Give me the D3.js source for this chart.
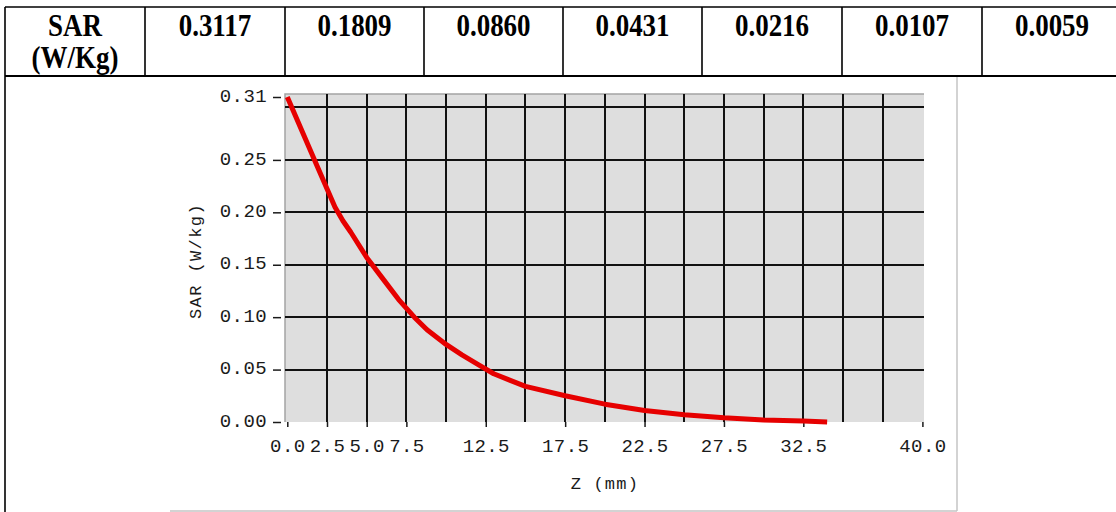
<!DOCTYPE html>
<meta charset="utf-8">
<head>
<style>
  body { margin: 0; background: #fff; }
  .cell-text { font: bold 31px "Liberation Serif", "Times New Roman", serif; fill: #000; }
  .axis text, .title { font-family: "Liberation Mono", "DejaVu Sans Mono", monospace; fill: #1a1a1a; }
  .axis path { display: none; }
  .axis line { stroke: #1a1a1a; stroke-width: 1.5; }
  .grid line { stroke: #111; stroke-width: 2; shape-rendering: crispEdges; }
</style>
</head>
<body>
<script src="https://d3js.org/d3.v7.min.js"></script>
<script>
// header table values
var headerLabel = ["SAR", "(W/Kg)"];
var sarTable = [0.3117, 0.1809, 0.0860, 0.0431, 0.0216, 0.0107, 0.0059];

// curve
var depthMm = [0, 1, 2, 3, 3.5, 4, 5, 6, 7, 8, 8.8, 10, 11, 12, 13, 14, 15, 17.5, 20, 22.5, 25, 27.5, 30, 32.5, 34];
var sarCurve = [0.310, 0.275, 0.240, 0.205, 0.192, 0.181, 0.157, 0.137, 0.117, 0.100, 0.088, 0.074, 0.064,
                0.055, 0.046, 0.040, 0.034, 0.025, 0.017, 0.011, 0.007, 0.004, 0.002, 0.001, 0.000];

// ticks and grid
var xTicks = [0, 2.5, 5, 7.5, 12.5, 17.5, 22.5, 27.5, 32.5, 40];
var yTicks = [0, 0.05, 0.10, 0.15, 0.20, 0.25, 0.31];
var xGrid = [2.5, 5, 7.5, 10, 12.5, 15, 17.5, 20, 22.5, 25, 27.5, 30, 32.5, 35, 37.5];
var yGrid = [0.05, 0.10, 0.15, 0.20, 0.25, 0.30];

var W = 1116, H = 512;
var svg = d3.select("body").append("svg")
    .attr("width", W)
    .attr("height", H);

// ---- table ----
var colEdges = [5, 145, 285, 424, 563, 702, 842, 982, 1122];
var tableTop = 7, rowBottom = 76;

var borders = svg.append("g").attr("stroke", "#000").attr("stroke-width", 1.6);
borders.append("line").attr("x1", 5).attr("x2", W).attr("y1", tableTop).attr("y2", tableTop);
borders.append("line").attr("x1", 5).attr("x2", W).attr("y1", rowBottom).attr("y2", rowBottom)
    .attr("stroke-width", 2);
borders.append("line").attr("x1", 5).attr("x2", 5).attr("y1", tableTop).attr("y2", H);
borders.selectAll(".div")
    .data(colEdges.slice(1, -1))
  .enter().append("line")
    .attr("x1", function(d) { return d; })
    .attr("x2", function(d) { return d; })
    .attr("y1", tableTop)
    .attr("y2", rowBottom);

function cellText(txt, cx, base) {
  svg.append("text")
      .attr("class", "cell-text")
      .attr("text-anchor", "middle")
      .attr("transform", "translate(" + cx + "," + base + ") scale(0.87,1)")
      .text(txt);
}

var cx0 = (colEdges[0] + colEdges[1]) / 2;
cellText(headerLabel[0], cx0, 36);
cellText(headerLabel[1], cx0, 68);

var fmt4 = d3.format(".4f");
sarTable.forEach(function(v, i) {
  cellText(fmt4(v), (colEdges[i + 1] + colEdges[i + 2]) / 2, 36);
});

// ---- chart picture frame ----
var frame = svg.append("g").attr("stroke", "#c4c4c4").attr("stroke-width", 1.5);
frame.append("line").attr("x1", 957).attr("x2", 957).attr("y1", rowBottom + 1).attr("y2", 511);
frame.append("line").attr("x1", 170).attr("x2", 957).attr("y1", 511).attr("y2", 511);

// ---- plot ----
var plot = {left: 285, right: 924, top: 94, bottom: 422};

var x = d3.scaleLinear().domain([0, 40]).range([287.3, 922.4]);
var y = d3.scaleLinear().domain([0, 0.31]).range([422, 97]);

svg.append("rect")
    .attr("x", plot.left)
    .attr("y", plot.top)
    .attr("width", plot.right - plot.left)
    .attr("height", plot.bottom - plot.top)
    .attr("fill", "#dedede");

svg.append("path")
    .attr("d", "M" + plot.left + "," + plot.bottom + "V" + plot.top + "H" + plot.right)
    .attr("fill", "none")
    .attr("stroke", "#a4a4a4")
    .attr("stroke-width", 1.5);

var grid = svg.append("g").attr("class", "grid");
grid.selectAll(".gx")
    .data(xGrid)
  .enter().append("line")
    .attr("x1", function(d) { return Math.round(x(d)); })
    .attr("x2", function(d) { return Math.round(x(d)); })
    .attr("y1", plot.top)
    .attr("y2", plot.bottom);
grid.selectAll(".gy")
    .data(yGrid)
  .enter().append("line")
    .attr("x1", plot.left)
    .attr("x2", plot.right)
    .attr("y1", function(d) { return Math.round(y(d)); })
    .attr("y2", function(d) { return Math.round(y(d)); });

// axes
var xAxis = d3.axisBottom(x)
    .tickValues(xTicks)
    .tickSize(5)
    .tickPadding(12)
    .tickFormat(d3.format(".1f"));

svg.append("g")
    .attr("class", "x axis")
    .attr("transform", "translate(0," + plot.bottom + ")")
    .call(xAxis)
  .selectAll("text")
    .style("font-size", "19px")
    .style("letter-spacing", "0.4px");

var yAxis = d3.axisLeft(y)
    .tickValues(yTicks)
    .tickSize(8)
    .tickPadding(6)
    .tickFormat(d3.format(".2f"));

svg.append("g")
    .attr("class", "y axis")
    .attr("transform", "translate(281,0)")
    .call(yAxis)
  .selectAll("text")
    .attr("dy", "0.22em")
    .style("font-size", "19px")
    .style("letter-spacing", "0.4px");

// axis titles
svg.append("text")
    .attr("class", "title")
    .attr("text-anchor", "middle")
    .attr("x", (x.range()[0] + x.range()[1]) / 2)
    .attr("y", 489)
    .style("font-size", "17px")
    .style("letter-spacing", "1.2px")
    .text("Z (mm)");

svg.append("text")
    .attr("class", "title")
    .attr("text-anchor", "middle")
    .attr("transform", "translate(201,261) rotate(-90)")
    .style("font-size", "17px")
    .style("letter-spacing", "1.4px")
    .text("SAR (W/kg)");

// the SAR curve
var line = d3.line()
    .x(function(d) { return x(d[0]); })
    .y(function(d) { return y(d[1]); });

svg.append("path")
    .datum(d3.zip(depthMm, sarCurve))
    .attr("d", line)
    .attr("fill", "none")
    .attr("stroke", "#e60000")
    .attr("stroke-width", 5)
    .attr("stroke-linejoin", "round");
</script>
</body>
